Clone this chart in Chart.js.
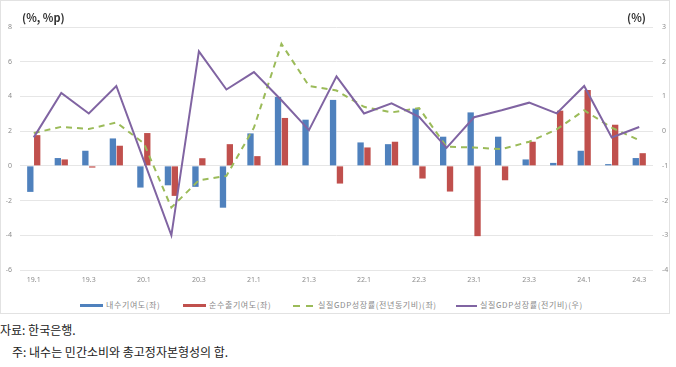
<!DOCTYPE html>
<html>
<head>
<meta charset="utf-8">
<script src="https://cdn.jsdelivr.net/npm/chart.js@4/dist/chart.umd.min.js"></script>
<style>
  html, body { margin:0; padding:0; background:#fff; }
  body { width:676px; height:367px; position:relative; overflow:hidden; font-family:"Noto Sans CJK KR","Noto Sans",sans-serif; }
  #frame { position:absolute; left:0; top:0; width:670px; height:314px; border:1px solid #e2e2e2; box-sizing:border-box; }
  #wrap { position:absolute; left:0; top:0; width:676px; height:295px; }
  #c { display:block; width:676px; height:295px; }
  .unit { position:absolute; top:9px; font-size:11px; font-weight:bold; color:#333; font-family:"Noto Sans CJK KR","Noto Sans",sans-serif; }
  .lg { position:absolute; top:299px; font-size:8px; color:#8a8a8a; white-space:nowrap; line-height:12px; letter-spacing:0.6px; }
  .sw { position:absolute; top:305px; height:0; }
  .note { position:absolute; left:0; font-size:12px; color:#222; letter-spacing:0px; white-space:nowrap; }
</style>
</head>
<body>
<div id="frame"></div>
<div id="wrap"><canvas id="c" width="676" height="295"></canvas></div>
<div class="unit" style="left:22px;">(%, %p)</div>
<div class="unit" style="left:627px;">(%)</div>

<div class="sw" style="left:80px;width:23px;border-top:3px solid #4f81bd;top:304px;"></div>
<div class="lg" style="left:106px;">내수기여도(좌)</div>
<div class="sw" style="left:183px;width:23px;border-top:3px solid #c0504d;top:304px;"></div>
<div class="lg" style="left:209px;">순수출기여도(좌)</div>
<div class="sw" style="left:293px;width:7px;border-top:2px solid #9bbb59;"></div>
<div class="sw" style="left:306px;width:7px;border-top:2px solid #9bbb59;"></div>
<div class="lg" style="left:318px;">실질GDP성장률(전년동기비)(좌)</div>
<div class="sw" style="left:456px;width:21px;border-top:2px solid #8064a2;"></div>
<div class="lg" style="left:480px;">실질GDP성장률(전기비)(우)</div>

<div class="note" style="top:321px;">자료: 한국은행.</div>
<div class="note" style="top:343px;left:12px;">주: 내수는 민간소비와 총고정자본형성의 합.</div>

<script>
const quarters = ['19.1','19.2','19.3','19.4','20.1','20.2','20.3','20.4','21.1','21.2','21.3','21.4','22.1','22.2','22.3','22.4','23.1','23.2','23.3','23.4','24.1','24.2','24.3'];
const domestic = [-1.5,0.45,0.87,1.58,-1.25,-1.12,-1.21,-2.41,1.87,3.97,2.66,3.8,1.35,1.25,3.3,1.68,3.08,1.68,0.37,0.17,0.87,0.1,0.45];
const netExport = [1.77,0.37,-0.1,1.16,1.89,-1.73,0.44,1.25,0.56,2.76,0,-1.02,1.06,1.39,-0.73,-1.48,-4.05,-0.83,1.39,3.18,4.37,2.37,0.73];
const gdpYoY = [1.89,2.25,2.12,2.5,1.3,-2.4,-0.83,-0.58,2.2,7.03,4.6,4.34,3.4,3.08,3.33,1.1,1.06,0.96,1.39,2.1,3.2,2.2,1.48];
const gdpQoQ = [-0.18,1.1,0.51,1.3,-0.85,-3.0,2.3,1.2,1.7,0.89,0.03,1.58,0.51,0.8,0.41,-0.48,0.4,0.6,0.82,0.51,1.3,-0.18,0.12];
const seriesNames = ['내수기여도(좌)','순수출기여도(좌)','실질GDP성장률(전년동기비)(좌)','실질GDP성장률(전기비)(우)'];

const tickFont = { family: '"Noto Sans","DejaVu Sans",sans-serif', size: 7 };
new Chart(document.getElementById('c'), {
  data: {
    labels: quarters,
    datasets: [
      { type:'bar', label:seriesNames[0], data:domestic, backgroundColor:'#4f81bd', yAxisID:'y', order:2, categoryPercentage:0.5, barPercentage:0.92 },
      { type:'bar', label:seriesNames[1], data:netExport, backgroundColor:'#c0504d', yAxisID:'y', order:2, categoryPercentage:0.5, barPercentage:0.92 },
      { type:'line', label:seriesNames[2], data:gdpYoY, borderColor:'#9bbb59', borderWidth:2, borderDash:[6,5], pointRadius:0, tension:0, yAxisID:'y', order:1 },
      { type:'line', label:seriesNames[3], data:gdpQoQ, borderColor:'#8064a2', borderWidth:2, pointRadius:0, tension:0, yAxisID:'y1', order:0 }
    ]
  },
  options: {
    responsive:false,
    animation:false,
    devicePixelRatio:1,
    layout:{ padding:{ top:27, left:0, right:0, bottom:0 } },
    plugins:{ legend:{ display:false }, tooltip:{ enabled:false } },
    scales:{
      x:{
        offset:true,
        grid:{ display:false, drawTicks:false },
        border:{ display:false },
        ticks:{ autoSkip:false, maxRotation:0, font:tickFont, color:'#8c8c8c', padding:6,
          callback:function(v,i){ return i % 2 === 0 ? quarters[i] : ''; } },
        afterFit:function(s){ s.height = 25; }
      },
      y:{
        position:'left', min:-6, max:8,
        ticks:{ stepSize:2, font:tickFont, color:'#8c8c8c', padding:8 },
        grid:{ color:'#e6e6e6', lineWidth:1, drawTicks:false },
        border:{ display:false },
        afterFit:function(s){ s.width = 20; }
      },
      y1:{
        position:'right', min:-4, max:3,
        ticks:{ stepSize:1, font:tickFont, color:'#8c8c8c', padding:9 },
        grid:{ display:false, drawTicks:false },
        border:{ display:false },
        afterFit:function(s){ s.width = 23; }
      }
    }
  }
});
</script>
</body>
</html>
